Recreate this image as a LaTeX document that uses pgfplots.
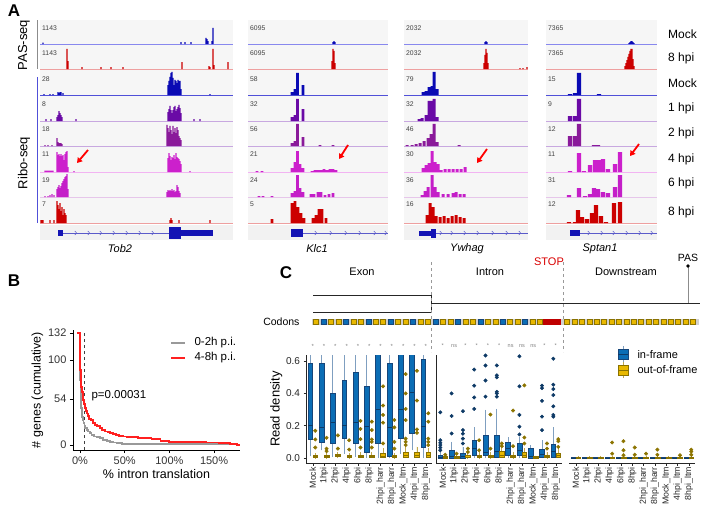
\documentclass[border=0pt]{standalone}
\usepackage{pgfplots}
\pgfplotsset{compat=1.18}
\usepgfplotslibrary{statistics}
\usetikzlibrary{arrows.meta}
\usepackage{fontspec}
\setmainfont{Liberation Sans}
\newcommand{\fs}[1]{\fontsize{#1}{#1}\selectfont}
\definecolor{trkbg}{HTML}{F6F6F6}
\definecolor{cMock}{HTML}{0A0AB4}
\definecolor{cH1}{HTML}{6A0AA6}
\definecolor{cH2}{HTML}{8A1A9A}
\definecolor{cH4}{HTML}{CC20CC}
\definecolor{cH6}{HTML}{C41EC8}
\definecolor{cH8}{HTML}{CC0000}
\definecolor{lMock}{HTML}{8888EE}
\definecolor{bMock}{HTML}{5050D8}
\definecolor{lRed}{HTML}{EEA0A0}
\definecolor{lPur}{HTML}{C8A8E0}
\definecolor{lPink}{HTML}{F2B4F2}
\definecolor{lPink2}{HTML}{E6C6EA}
\definecolor{gblue}{HTML}{1414B4}
\definecolor{inblue}{HTML}{0B6DB5}
\definecolor{inedge}{HTML}{16457A}
\definecolor{indot}{HTML}{0E3A66}
\definecolor{inwhisk}{HTML}{7F9FC0}
\definecolor{outgold}{HTML}{E8B800}
\definecolor{outedge}{HTML}{8A7200}
\definecolor{outdot}{HTML}{8C7400}
\definecolor{outwhisk}{HTML}{C0A850}
\definecolor{bred}{HTML}{FF2020}
\definecolor{bgray}{HTML}{999999}
\pgfplotsset{
 trk/.style={scale only axis, height=24pt, ymin=0, ymax=24, hide axis, ybar, bar width=1.2, bar shift=0pt, clip=true, anchor=south west},
 colA/.style={at={(40pt,-#1pt)}, xmin=40, xmax=233, width=193pt},
 colB/.style={at={(248pt,-#1pt)}, xmin=248, xmax=388, width=140pt},
 colC/.style={at={(404pt,-#1pt)}, xmin=404, xmax=528, width=124pt},
 colD/.style={at={(546pt,-#1pt)}, xmin=546, xmax=657, width=111pt},
 inbox/.style={draw=inedge, fill=inblue, line width=0.5pt, mark=*, mark size=1.7pt, mark options={draw=indot, fill=indot},
   boxplot/draw direction=y, boxplot/box extend=0.42, boxplot/whisker extend=0,
   boxplot/every whisker/.style={draw=inwhisk, line width=0.8pt},
   boxplot/every median/.style={draw=indot, line width=0.8pt}},
 outbox/.style={draw=outedge, fill=outgold, line width=0.5pt, mark=*, mark size=1.7pt, mark options={draw=outdot, fill=outdot},
   boxplot/draw direction=y, boxplot/box extend=0.42, boxplot/whisker extend=0,
   boxplot/every whisker/.style={draw=outwhisk, line width=0.8pt},
   boxplot/every median/.style={draw=outedge, line width=0.8pt}},
 cax/.style={scale only axis, width=126pt, height=108pt, xmin=0.4, xmax=11.55, ymin=-0.031, ymax=0.638,
   anchor=south west, axis lines*=left, axis line style={black!85, line width=0.6pt}, tick style={black!85, line width=0.5pt},
   tick align=outside, major tick length=2.5pt, xtick={1,2,3,4,5,6,7,8,9,10,11},
   xticklabels={Mock,1hpi,2hpi,4hpi,6hpi,8hpi,2hpi\_harr,8hpi\_harr,Mock\_ltm,4hpi\_ltm,8hpi\_ltm},
   xticklabel style={rotate=90, anchor=east, font=\fs{8.8}, text=black!85, inner sep=1.5pt},
   ytick={0,0.2,0.4,0.6}, yticklabels={0.0,0.2,0.4,0.6}, yticklabel style={font=\fs{10}, text=black!85},
   clip=true},
}
\newcommand{\trk}[5][]{\begin{axis}[trk,#2=#3,#1]\addplot[fill=#4,draw=none] coordinates {#5};\end{axis}}
\newcommand{\bi}[7]{\addplot[inbox, boxplot prepared={draw position=#1, lower whisker=#2, lower quartile=#3, median=#4, upper quartile=#5, upper whisker=#6}] coordinates {#7};}
\newcommand{\bo}[7]{\addplot[outbox, boxplot prepared={draw position=#1, lower whisker=#2, lower quartile=#3, median=#4, upper quartile=#5, upper whisker=#6}] coordinates {#7};}
\begin{document}
\begin{tikzpicture}
\useasboundingbox (0,0) rectangle (704pt,-514pt);
\begin{scope}[x=1pt,y=-1pt]
\foreach \xa/\xb in {40/233,248/388,404/528,546/657}{
  \fill[trkbg] (\xa,20) rectangle (\xb,223);
  \fill[black!5] (\xa,225) rectangle (\xb,240);
  \foreach \yy/\cc in {44/lMock,69/lRed,95/bMock,121/lPur,146/lPur,172/lPink,197/lPink2,223/lRed}{
    \draw[\cc, line width=0.8pt] (\xa,\yy)--(\xb,\yy);}
}
\foreach \xa/\la/\lb/\lc/\ld/\le/\lf/\lg/\lh in {40/1143/1143/28/8/18/11/19/7, 248/6095/6095/58/32/56/21/24/5, 404/2032/2032/79/32/46/30/36/16, 546/7365/7365/15/9/12/11/31/12}{
  \node[anchor=west, font=\fs{6.8}, text=black!75, inner sep=0] at (\xa+2,28) {\la};
  \node[anchor=west, font=\fs{6.8}, text=black!75, inner sep=0] at (\xa+2,53) {\lb};
  \node[anchor=west, font=\fs{6.8}, text=black!75, inner sep=0] at (\xa+2,79) {\lc};
  \node[anchor=west, font=\fs{6.8}, text=black!75, inner sep=0] at (\xa+2,104) {\ld};
  \node[anchor=west, font=\fs{6.8}, text=black!75, inner sep=0] at (\xa+2,129) {\le};
  \node[anchor=west, font=\fs{6.8}, text=black!75, inner sep=0] at (\xa+2,154) {\lf};
  \node[anchor=west, font=\fs{6.8}, text=black!75, inner sep=0] at (\xa+2,180) {\lg};
  \node[anchor=west, font=\fs{6.8}, text=black!75, inner sep=0] at (\xa+2,204) {\lh};
}
\node[font=\bfseries\fs{17}] at (14,11) {A};
\node[font=\bfseries\fs{17}] at (14,281) {B};
\node[font=\bfseries\fs{17}] at (286,273) {C};
\draw[black!45, line width=1pt] (37,20)--(37,69);
\draw[bMock, line width=1pt] (37,77)--(37,223);
\node[rotate=90, font=\fs{13}] at (24,45) {PAS-seq};
\node[rotate=90, font=\fs{13}] at (24,163) {Ribo-seq};
\foreach \yy/\tt in {34/Mock,58/8 hpi,83/Mock,108/1 hpi,133/2 hpi,159/4 hpi,183/6 hpi,212/8 hpi}{
  \node[anchor=west, font=\fs{12}, inner sep=0] at (668,\yy) {\tt};}
\end{scope}

% ---------- Panel A tracks ----------
\trk{colA}{44}{cMock}{(43,1.5) (181,2) (185,2) (191,2) (206,6) (207,5) (208,3) (212,3) (213,16)}
\trk{colA}{69}{cH8}{(67,20) (68,8) (82,2) (101,2) (111,2) (123,2) (182,7) (209,3) (210,2) (213,20) (214,4) (228,7)}
\trk{colA}{95}{cMock}{(44,1) (50,1) (53,1) (58,3) (59,2) (60,3) (61,3) (63,2) (168,10) (169,14) (170,18) (171,22) (172,23) (173,17) (174,10) (175,15) (176,14) (177,12) (178,15) (179,14) (180,14) (181,6) (210,1)}
\trk{colA}{121}{cH1}{(46,2) (51,2) (57,4) (58,6) (59,10) (60,8) (61,6) (62,4) (76,2) (168,9) (169,12) (170,15) (171,11) (172,8) (173,11) (174,14) (175,15) (176,10) (177,12) (178,14) (179,16) (180,13) (181,8) (194,2) (200,2)}
\trk{colA}{146}{cH2}{(45,1) (48,1) (52,1) (57,8) (58,4) (59,3) (60,3) (61,3) (62,2) (167,21) (168,18) (169,14) (170,20) (171,16) (172,12) (173,20) (174,14) (175,18) (176,13) (177,19) (178,16) (179,10) (180,8) (181,6)}
\trk{colA}{172}{cH4}{(45,1.5) (46,1.5) (47,1.5) (48,1.5) (49,1.5) (50,1.5) (51,1.5) (52,1.5) (53,1.5) (57,20) (58,17) (59,18) (60,16) (61,18) (62,16) (63,17) (64,12) (65,18) (66,20) (67,21) (68,5) (74,1) (168,14) (169,19) (170,16) (171,12) (172,15) (173,14) (174,17) (175,13) (176,19) (177,15) (178,14) (179,13) (180,11) (181,8) (190,1)}
\trk{colA}{197}{cH6}{(45,1) (48,1) (50,2) (52,3) (54,2) (57,8) (58,10) (59,12) (60,9) (61,11) (62,14) (63,16) (64,18) (65,20) (66,21) (67,23) (68,8) (167,5) (168,7) (169,6) (170,7) (171,6) (172,8) (173,6) (174,7) (175,5) (176,6) (177,12) (178,10) (179,6) (180,4)}
\trk{colA}{223}{cH8}{(41,3) (42,3) (43,3) (50,3) (54,3) (57,22) (58,18) (59,14) (60,20) (61,12) (62,16) (63,8) (64,14) (65,10) (66,8) (170,3) (171,5) (172,3) (179,3) (210,3)}

\trk{colB}{44}{cMock}{(333,2) (334,3) (335,2)}
\trk{colB}{69}{cH8}{(332,8) (333,20) (334,18) (335,6)}
\trk[bar width=2.8]{colB}{95}{cMock}{(292,3) (295,6) (297.5,22) (303,10)}
\trk[bar width=2.8]{colB}{121}{cH1}{(292,4) (295,6) (297.5,22) (303,12)}
\trk[bar width=2.8]{colB}{146}{cH2}{(292,3) (295,5) (297.5,22) (303,9) (320,1) (333,1)}
\trk[bar width=2.8]{colB}{172}{cH4}{(257,1) (262,1) (292,4) (295,10) (297.5,21) (300,8) (303,4) (312,1) (315,2) (318,2) (321,2) (324,3) (327,2) (330,3) (333,3) (336,2)}
\trk[bar width=2.8]{colB}{197}{cH6}{(259,1) (263,1) (272,1) (292,4) (295,6) (297.5,22) (300,9) (303,5) (311,3) (314,3) (318,5) (321,5) (325,2) (329,3) (333,4)}
\trk[bar width=2.8]{colB}{223}{cH8}{(272,4) (292,20) (295,22) (298,16) (301,10) (304,5) (313,5) (316,8) (319,14) (322,14) (326,5)}

\trk{colC}{44}{cMock}{(485,2) (486,3) (487,2)}
\trk{colC}{69}{cH8}{(484,6) (485,14) (486,20) (487,16) (488,6) (520,1) (523,1) (527,2)}
\trk[bar width=3]{colC}{95}{cMock}{(423,3) (426,4) (429,8) (432,9) (434,23) (437,6)}
\trk[bar width=3]{colC}{121}{cH1}{(419,2) (422,3) (426,6) (429,20) (432,20) (434,22) (437,4)}
\trk[bar width=3]{colC}{146}{cH2}{(407,1) (412,1) (416,2) (420,3) (424,5) (428,8) (431,12) (434,22) (437,4) (459,1)}
\trk[bar width=3]{colC}{172}{cH4}{(423,4) (426,7) (429,9) (432,21) (435,10) (438,8) (441,2) (445,3) (449,3) (453,3) (457,3) (461,3) (465,5)}
\trk[bar width=3]{colC}{197}{cH6}{(422,2) (425,6) (428,10) (432,22) (435,10) (438,5) (443,3) (448,3) (453,4) (456,5) (460,3) (464,3)}
\trk[bar width=3]{colC}{223}{cH8}{(427,8) (430,20) (433,16) (436,7) (440,6) (444,7) (448,5) (452,7) (456,8) (460,6) (464,5)}

\trk{colD}{44}{cMock}{(629,1) (630,2) (631,3) (632,3) (633,2) (634,1)}
\trk{colD}{69}{cH8}{(625,3) (626,6) (627,9) (628,12) (629,15) (630,18) (631,20) (632,20) (633,10) (634,3)}
\trk[bar width=4.2]{colD}{95}{cMock}{(570,1) (575,2) (579,22) (599,1)}
\trk[bar width=4.2]{colD}{121}{cH1}{(570,5) (575,5) (579,22)}
\trk[bar width=4.2]{colD}{146}{cH2}{(570,10) (575,10) (579,22) (594,1) (598,1)}
\trk[bar width=4.2]{colD}{172}{cH4}{(570,1) (579,19) (584,1) (590,7) (595,12) (599,12) (603,13) (608,3) (615,8) (620,20)}
\trk[bar width=4.2]{colD}{197}{cH6}{(569,2) (579,9) (585,1) (590,3) (594,9) (598,8) (603,5) (608,4) (615,10) (620,22)}
\trk[bar width=4.2]{colD}{223}{cH8}{(569,1) (575,1) (578,13) (582,6) (587,4) (592,10) (596,18) (601,7) (606,1) (614,20) (620,21)}

% ---------- Panel B ----------
\begin{axis}[at={(73pt,-450pt)}, anchor=south west, scale only axis, width=167pt, height=120pt,
  xmin=-7.8, xmax=179, ymin=-5.9, ymax=135.5, axis lines*=left,
  axis line style={black, line width=0.6pt}, tick style={black, line width=0.6pt},
  tick align=outside, major tick length=3pt,
  xtick={0,50,100,150}, xticklabels={0\%,50\%,100\%,150\%},
  ytick={0,54,100,132}, yticklabels={0,54,100,132},
  tick label style={font=\fs{11}, text=black!80},
  xlabel={\% intron translation}, ylabel={\# genes (cumulative)},
  label style={font=\fs{12.5}}, xlabel style={yshift=2pt}, ylabel style={yshift=-2pt}, clip=false]
\addplot[black!75, dashed, line width=0.7pt] coordinates {(4.5,-5.9) (4.5,135.5)};
\addplot[const plot, bgray, line width=1.8pt] coordinates {(-3,132) (0.2,76) (0.6,62) (1,52) (1.5,44) (2,38) (2.6,33) (3.3,29) (4,26) (5,23) (6,20) (7.5,18) (9,16) (11,14) (13,12) (16,10) (19,9) (22,8) (26,6) (30,5) (34,4) (37,3) (41,2) (47,1) (168,1)};
\addplot[const plot, bred, line width=1.8pt] coordinates {(-3,132) (0.3,88) (0.8,75) (1.5,68) (2.2,62) (3,57) (3.7,53) (4.5,48) (5.5,44) (6.5,40) (7.7,37) (9,34) (10.5,31) (12,29) (14.5,26) (17,24) (19,22) (22,20) (25,18) (28,16) (31,15) (34,14) (37,13) (40,12) (44,11) (48,10) (52,9) (65,8) (80,7) (90,5) (100,4) (141,3) (155,2) (168,1) (176,0) (179,0)};
\end{axis}

% ---------- Panel C boxplots ----------
\begin{axis}[cax, at={(306pt,-463pt)}, ylabel={Read density}, ylabel style={font=\fs{13}, yshift=-3pt}]
\bi{0.78}{0.01}{0.117}{0.204}{0.585}{1}{}
\bo{1.22}{0}{0.003}{0.008}{0.015}{0.03}{(0,0.169) (0,0.115) (0,0.065)}
\bi{1.78}{0.048}{0.10}{0.19}{0.585}{1}{}
\bo{2.22}{0}{0.003}{0.008}{0.015}{0.03}{(0,0.125) (0,0.058) (0,0.042)}
\bi{2.78}{0.006}{0.094}{0.22}{0.398}{1}{}
\bo{3.22}{0}{0.008}{0.015}{0.025}{0.04}{(0,0.14) (0,0.058)}
\bi{3.78}{0.027}{0.12}{0.2}{0.48}{1}{}
\bo{4.22}{0}{0.003}{0.008}{0.015}{0.03}{(0,0.11) (0,0.052)}
\bi{4.78}{0.006}{0.09}{0.22}{0.53}{1}{}
\bo{5.22}{0}{0.004}{0.01}{0.02}{0.035}{(0,0.23) (0,0.18) (0,0.117) (0,0.065)}
\bi{5.78}{0}{0.033}{0.194}{0.444}{1}{}
\bo{6.22}{0}{0.004}{0.01}{0.02}{0.04}{(0,0.225) (0,0.173) (0,0.115) (0,0.1) (0,0.065)}
\bi{6.78}{0}{0.09}{0.298}{0.9}{1}{}
\bo{7.22}{0}{0.005}{0.012}{0.027}{0.06}{(0,0.444) (0,0.325) (0,0.267) (0,0.219) (0,0.09)}
\bi{7.78}{0}{0.01}{0.19}{0.585}{1}{}
\bo{8.22}{0}{0.003}{0.008}{0.015}{0.03}{(0,0.235) (0,0.19) (0,0.1) (0,0.058)}
\bi{8.78}{0.027}{0.125}{0.304}{0.9}{1}{}
\bo{9.22}{0}{0.006}{0.015}{0.035}{0.07}{(0,0.52) (0,0.40) (0,0.304) (0,0.235) (0,0.12) (0,0.1) (0,0.08)}
\bi{9.78}{0.048}{0.152}{0.406}{0.9}{1}{}
\bo{10.22}{0}{0.006}{0.015}{0.035}{0.07}{(0,0.54) (0,0.356) (0,0.177) (0,0.156)}
\bi{10.78}{0}{0.069}{0.198}{0.61}{1}{}
\bo{11.22}{0}{0.006}{0.015}{0.035}{0.06}{(0,0.277) (0,0.225) (0,0.12) (0,0.1) (0,0.08)}
\end{axis}
\begin{axis}[cax, at={(436pt,-463pt)}, ytick=\empty]
\bi{0.78}{0}{0}{0.005}{0.017}{0.04}{(0,0.283) (0,0.11) (0,0.094) (0,0.08) (0,0.065) (0,0.048)}
\bo{1.22}{0}{0}{0.003}{0.008}{0.015}{(0,0.02)}
\bi{1.78}{0}{0}{0.01}{0.048}{0.1}{(0,0.40) (0,0.26) (0,0.152)}
\bo{2.22}{0}{0}{0.004}{0.01}{0.02}{(0,0.027)}
\bi{2.78}{0}{0}{0.01}{0.03}{0.07}{(0,0.29) (0,0.173) (0,0.15) (0,0.12) (0,0.09)}
\bo{3.22}{0}{0.002}{0.006}{0.015}{0.03}{(0,0.058) (0,0.037)}
\bi{3.78}{0}{0.02}{0.06}{0.11}{0.19}{(0,0.548) (0,0.448) (0,0.375) (0,0.304)}
\bo{4.22}{0}{0.003}{0.01}{0.02}{0.04}{(0,0.11) (0,0.048)}
\bi{4.78}{0}{0.017}{0.037}{0.142}{0.298}{(0,0.635) (0,0.573) (0,0.48) (0,0.38)}
\bo{5.22}{0}{0.003}{0.01}{0.02}{0.04}{(0,0.269) (0,0.058)}
\bi{5.78}{0}{0.006}{0.04}{0.142}{0.304}{(0,0.573) (0,0.512) (0,0.5) (0,0.41) (0,0.40) (0,0.38)}
\bo{6.22}{0}{0.005}{0.015}{0.04}{0.06}{(0,0.09) (0,0.073)}
\bi{6.78}{0}{0.017}{0.058}{0.10}{0.13}{}
\bo{7.22}{0}{0.003}{0.01}{0.02}{0.04}{(0,0.294) (0,0.073)}
\bi{7.78}{0}{0.017}{0.05}{0.09}{0.13}{(0,0.63) (0,0.444) (0,0.267) (0,0.194) (0,0.146)}
\bo{8.22}{0}{0.005}{0.015}{0.035}{0.06}{(0,0.45) (0,0.127) (0,0.09)}
\bi{8.78}{0}{0}{0.01}{0.058}{0.08}{}
\bo{9.22}{0}{0}{0.003}{0.008}{0.015}{}
\bi{9.78}{0}{0.006}{0.025}{0.052}{0.11}{(0,0.448) (0,0.433) (0,0.354) (0,0.256) (0,0.173)}
\bo{10.22}{0}{0.003}{0.01}{0.02}{0.04}{(0,0.09) (0,0.058)}
\bi{10.78}{0}{0.006}{0.04}{0.083}{0.19}{(0,0.615) (0,0.454) (0,0.427) (0,0.39) (0,0.32) (0,0.267) (0,0.256)}
\bo{11.22}{0}{0.005}{0.015}{0.03}{0.06}{(0,0.117) (0,0.104) (0,0.069)}
\end{axis}
\begin{axis}[cax, at={(569pt,-463pt)}, ytick=\empty, axis y line=none]
\bi{0.78}{0}{0}{0}{0.003}{0.005}{}
\bo{1.22}{0}{0}{0.002}{0.006}{0.01}{}
\bi{1.78}{0}{0}{0}{0.003}{0.005}{}
\bo{2.22}{0}{0}{0.002}{0.006}{0.01}{}
\bi{2.78}{0}{0}{0}{0.003}{0.005}{}
\bo{3.22}{0}{0}{0.002}{0.006}{0.01}{}
\bi{3.78}{0}{0}{0}{0.003}{0.005}{}
\bo{4.22}{0}{0}{0.002}{0.006}{0.01}{(0,0.096) (0,0.027)}
\bi{4.78}{0}{0}{0}{0.003}{0.005}{}
\bo{5.22}{0}{0}{0.002}{0.006}{0.01}{(0,0.104) (0,0.048) (0,0.017)}
\bi{5.78}{0}{0}{0}{0.003}{0.005}{}
\bo{6.22}{0}{0}{0.002}{0.006}{0.01}{(0,0.065) (0,0.02)}
\bi{6.78}{0}{0}{0}{0.003}{0.005}{}
\bo{7.22}{0}{0}{0.002}{0.006}{0.01}{(0,0.027)}
\bi{7.78}{0}{0}{0}{0.003}{0.005}{}
\bo{8.22}{0}{0}{0.002}{0.006}{0.01}{(0,0.052) (0,0.02)}
\bi{8.78}{0}{0}{0}{0.003}{0.005}{}
\bo{9.22}{0}{0}{0.002}{0.006}{0.01}{}
\bi{9.78}{0}{0}{0}{0.003}{0.005}{}
\bo{10.22}{0}{0}{0.002}{0.006}{0.01}{(0,0.017)}
\bi{10.78}{0}{0}{0}{0.003}{0.005}{}
\bo{11.22}{0}{0}{0.002}{0.006}{0.01}{(0,0.052) (0,0.04) (0,0.02)}
\end{axis}

\begin{scope}[x=1pt,y=-1pt]
% arrows
\foreach \ax/\ay/\bx/\by in {88/150/77/163, 348/145/339/159, 487/149/477/163, 639/144/630/156}{
  \draw[-{Triangle[length=5pt,width=6pt]}, red, line width=1.8pt] (\ax,\ay)--(\bx,\by);}
% gene models
\fill[gblue] (58,230) rectangle (63,236);
\draw[gblue!70, line width=0.7pt] (63,233)--(169,233);
\fill[gblue] (169,227) rectangle (181,238.5);
\fill[gblue] (181,229.5) rectangle (213,236);
\foreach \c in {76,89,101,114,127,140,153}{\draw[gblue!70, line width=0.5pt] (\c-1.2,231)--(\c+0.6,233)--(\c-1.2,235);}
\fill[gblue] (291,229) rectangle (303,237);
\draw[gblue!70, line width=0.7pt] (303,233)--(388,233);
\foreach \c in {316,331,346,360,375,386}{\draw[gblue!70, line width=0.5pt] (\c-1.2,231)--(\c+0.6,233)--(\c-1.2,235);}
\fill[gblue] (419,230.5) rectangle (431,236);
\fill[gblue] (431,229) rectangle (436,237.5);
\draw[gblue!70, line width=0.7pt] (436,233)--(528,233);
\foreach \c in {441,452,465,478,493,507,520}{\draw[gblue!70, line width=0.5pt] (\c-1.2,231)--(\c+0.6,233)--(\c-1.2,235);}
\fill[gblue] (570,230) rectangle (580,236);
\draw[gblue!70, line width=0.7pt] (580,233)--(657,233);
\foreach \c in {589,602,614,627,640,652}{\draw[gblue!70, line width=0.5pt] (\c-1.2,231)--(\c+0.6,233)--(\c-1.2,235);}
\node[font=\itshape\fs{11}] at (120,249) {Tob2};
\node[font=\itshape\fs{11}] at (317,249) {Klc1};
\node[font=\itshape\fs{11}] at (467,249) {Ywhag};
\node[font=\itshape\fs{11}] at (600,249) {Sptan1};
% panel B legend and text
\draw[bgray, line width=2pt] (171,343)--(185,343);
\node[anchor=west, font=\fs{11.5}] at (191,343) {0-2h p.i.};
\draw[bred, line width=2pt] (171,358)--(185,358);
\node[anchor=west, font=\fs{11.5}] at (191,358) {4-8h p.i.};
\node[anchor=west, font=\fs{11.5}] at (88,396) {p=0.00031};
% panel C schematic
\node[font=\fs{11}] at (362,272) {Exon};
\node[font=\fs{11}] at (490,272) {Intron};
\node[font=\fs{11}] at (626,272) {Downstream};
\node[font=\fs{11}, text=red!85!black] at (549,262) {STOP};
\node[font=\fs{10.5}] at (688,258) {PAS};
\draw[black!45, line width=0.9pt] (688,266)--(688,303);
\fill[black] (688,266) circle (1.8);
\draw[black!85, line width=0.9pt] (313,295)--(431,295)--(431,312)--(313,312);
\draw[black!85, line width=0.9pt] (431,303)--(700,303);
\draw[black!40, dashed, line width=0.6pt] (431,262)--(431,352);
\draw[black!40, dashed, line width=0.6pt] (563,262)--(563,352);
\node[anchor=east, font=\fs{10.5}] at (303,322) {Codons};
\fill[black!18] (312,319) rectangle (699,325);
\foreach \i in {0,...,30}{
  \pgfmathtruncatemacro{\m}{mod(\i,3)}
  \ifnum\m=1 \def\cc{inblue}\def\ce{inedge}\else \def\cc{outgold}\def\ce{outedge}\fi
  \filldraw[fill=\cc, draw=\ce, line width=0.3pt] (315.9+7.47*\i-2.5,319.5) rectangle (315.9+7.47*\i+2.5,324.5);
}
\fill[red!75!black] (543,319) rectangle (561,325);
\foreach \i in {0,...,17}{
  \filldraw[fill=outgold, draw=outedge, line width=0.3pt] (567+7.4*\i-2.5,319.5) rectangle (567+7.4*\i+2.5,324.5);
}
% significance marks
\foreach \i in {0,...,10}{\node[font=\fs{6}, text=black!50] at (312.8+11.3*\i,346) {*};}
\foreach \t [count=\i from 0] in {*,ns,*,*,*,*,ns,ns,ns,*,*}{\node[font=\fs{5.5}, text=black!50] at (442.8+11.3*\i,346) {\t};}
% panel C legend
\draw[inwhisk, line width=0.8pt] (623,346)--(623,363);
\filldraw[fill=inblue, draw=inedge, line width=0.5pt] (618,349.5) rectangle (628,359.5);
\draw[indot, line width=0.8pt] (618,354.5)--(628,354.5);
\node[anchor=west, font=\fs{11}] at (634,355) {in-frame};
\draw[outwhisk, line width=0.8pt] (623,362)--(623,378);
\filldraw[fill=outgold, draw=outedge, line width=0.5pt] (618,365) rectangle (628,375);
\draw[outedge, line width=0.8pt] (618,370)--(628,370);
\node[anchor=west, font=\fs{11}] at (634,370) {out-of-frame};
\end{scope}
\end{tikzpicture}
\end{document}
